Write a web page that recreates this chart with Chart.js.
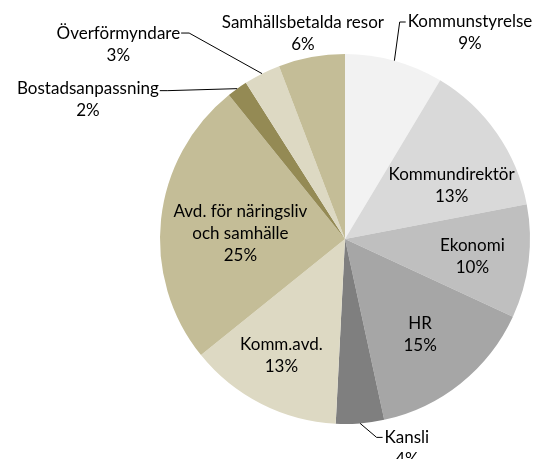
<!DOCTYPE html>
<html>
<head>
<meta charset="utf-8">
<script src="https://cdn.jsdelivr.net/npm/chart.js@4/dist/chart.umd.min.js"></script>
<style>
html,body{margin:0;padding:0;background:#fff;}
#wrap{width:539px;height:459px;position:relative;}
</style>
</head>
<body>
<div id="wrap"><canvas id="c" width="539" height="459"></canvas></div>
<script>
// ---- data ----
const categories = ['Kommunstyrelse','Kommundirektör','Ekonomi','HR','Kansli','Komm.avd.','Avd. för näringsliv och samhälle','Bostadsanpassning','Överförmyndare','Samhällsbetalda resor'];
const shares = [8.6, 13.4, 9.9, 14.7, 4.2, 13.4, 25.0, 1.8, 3.2, 5.8];
const labelLines = [['Kommunstyrelse'],['Kommundirektör'],['Ekonomi'],['HR'],['Kansli'],['Komm.avd.'],['Avd. för näringsliv','och samhälle'],['Bostadsanpassning'],['Överförmyndare'],['Samhällsbetalda resor']];

// ---- styles ----
const colors = ['#f2f2f2','#d9d9d9','#bfbfbf','#a6a6a6','#7f7f7f','#ddd9c3','#c4bd97','#948a54','#ddd9c3','#c4bd97'];
// label layout: inside -> offset from mid-angle point at 0.65r; outside -> offset of first line from arc edge
const labelLayout = [
  {mode:'out', dx:75.6, dy:-38.7, side:'left'},
  {mode:'in', dx:8, dy:15},
  {mode:'in', dx:8, dy:3},
  {mode:'in', dx:0, dy:2},
  {mode:'out', dx:46.8, dy:14, side:'left'},
  {mode:'in', dx:-9, dy:9},
  {mode:'in', dx:15, dy:7},
  {mode:'out', dx:-149.3, dy:0, side:'right', lineDy:2},
  {mode:'out', dx:-143.7, dy:-40.6, side:'right'},
  {mode:'out', dx:-8.6, dy:-35, side:'none'}
];
const FONT = '17px Lato';
const LINE_H = 22;

const labelPlugin = {
  id:'sliceLabels',
  afterDatasetsDraw(chart){
    const ctx = chart.ctx;
    const meta = chart.getDatasetMeta(0);
    const data = chart.data.datasets[0].data;
    const total = data.reduce((a,b)=>a+b,0);
    ctx.save();
    ctx.font = FONT;
    ctx.fillStyle = '#000';
    ctx.strokeStyle = '#000';
    ctx.lineWidth = 1;
    ctx.textBaseline = 'middle';
    ctx.textAlign = 'center';
    meta.data.forEach((arc,i)=>{
      const p = arc.getProps(['x','y','startAngle','endAngle','outerRadius'], true);
      const mid = (p.startAngle + p.endAngle)/2;
      const pct = Math.round(data[i]/total*100) + '%';
      const lines = labelLines[i].concat([pct]);
      const L = labelLayout[i];
      if (L.mode === 'in') {
        const r = p.outerRadius*0.65;
        const cx = p.x + Math.cos(mid)*r + L.dx;
        const cy = p.y + Math.sin(mid)*r + L.dy;
        const y0 = cy - (lines.length-1)*LINE_H/2;
        lines.forEach((t,k)=>ctx.fillText(t, cx, y0 + k*LINE_H));
      } else {
        const ex = p.x + Math.cos(mid)*p.outerRadius;
        const ey = p.y + Math.sin(mid)*p.outerRadius;
        const cx = ex + L.dx, y1 = ey + L.dy;
        lines.forEach((t,k)=>ctx.fillText(t, cx, y1 + k*LINE_H));
        const w = ctx.measureText(lines[0]).width;
        const ly = y1 + (L.lineDy||0);
        ctx.beginPath();
        if (L.side === 'left') {
          const tl = cx - w/2;
          ctx.moveTo(ex, ey); ctx.lineTo(tl-8, ly); ctx.lineTo(tl-2, ly);
          ctx.stroke();
        } else if (L.side === 'right') {
          const tr = cx + w/2;
          ctx.moveTo(ex, ey); ctx.lineTo(tr+9, ly); ctx.lineTo(tr+1, ly);
          ctx.stroke();
        }
      }
    });
    ctx.restore();
  }
};

new Chart(document.getElementById('c'), {
  type:'pie',
  data:{
    labels: categories,
    datasets:[{ data: shares, backgroundColor: colors, borderWidth:0 }]
  },
  options:{
    responsive:false,
    animation:false,
    layout:{ padding:{ top:54, bottom:35, left:160, right:9 } },
    plugins:{ legend:{display:false}, tooltip:{enabled:false} }
  },
  plugins:[labelPlugin]
});
</script>
</body>
</html>
